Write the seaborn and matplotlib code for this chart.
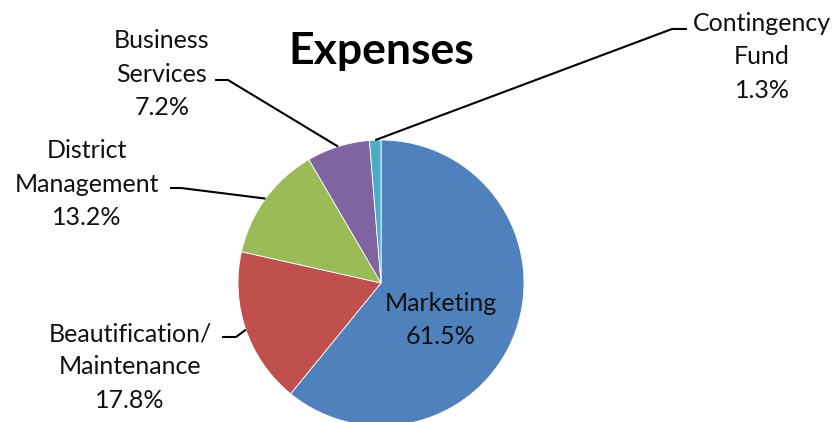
import numpy as np
import seaborn as sns
import matplotlib
matplotlib.use("Agg")
import matplotlib.pyplot as plt

# dados do grafico
categorias = ["Marketing", "Beautification/\nMaintenance", "District\nManagement",
              "Business\nServices", "Contingency\nFund"]
valores = [61.5, 17.8, 13.2, 7.2, 1.3]
cores = ["#4F81BD", "#C0504D", "#9BBB59", "#8064A2", "#4BACC6"]

sns.set_theme(style="white")
plt.rcParams["font.family"] = ["Lato", "DejaVu Sans"]

fig = plt.figure(figsize=(8.33, 4.22), dpi=100)
ax = fig.add_axes([0, 0, 1, 1])

centro = (381, 139)
raio = 143
wedges, _ = ax.pie(valores, colors=cores, startangle=90, counterclock=False,
                   center=centro, radius=raio, frame=True,
                   wedgeprops=dict(linewidth=0.6, edgecolor="white"))

ax.set_xlim(0, 833)
ax.set_ylim(0, 422)
ax.set_aspect("equal")
ax.axis("off")

ax.text(381, 371, "Expenses", ha="center", va="center", fontsize=32,
        fontweight="bold", color="black")

# rotulo interno do Marketing
ax.text(441, 102, f"{categorias[0]}\n{valores[0]}%", ha="center", va="center",
        fontsize=18, color="#111111", linespacing=1.55)

# posicoes dos rotulos externos: (texto x, texto y, inicio linha x, cotovelo x, linha y)
posicoes = {
    1: (130, 55, 222, 236, 85),
    2: (87, 238, 170, 181, 234),
    3: (162, 348, 215, 228, 342),
    4: (762, 365, 687, 672, 393),
}

for i, (tx, ty, lx0, lx1, ly) in posicoes.items():
    w = wedges[i]
    ang = np.deg2rad((w.theta1 + w.theta2) / 2)
    wx = centro[0] + raio * np.cos(ang)
    wy = centro[1] + raio * np.sin(ang)
    ax.text(tx, ty, f"{categorias[i]}\n{valores[i]}%", ha="center", va="center",
            fontsize=18, color="#111111", linespacing=1.55)
    ax.plot([lx0, lx1, wx], [ly, ly, wy], color="black", linewidth=1.5,
            solid_capstyle="butt")

fig.savefig("out.png", dpi=100, facecolor="white")
